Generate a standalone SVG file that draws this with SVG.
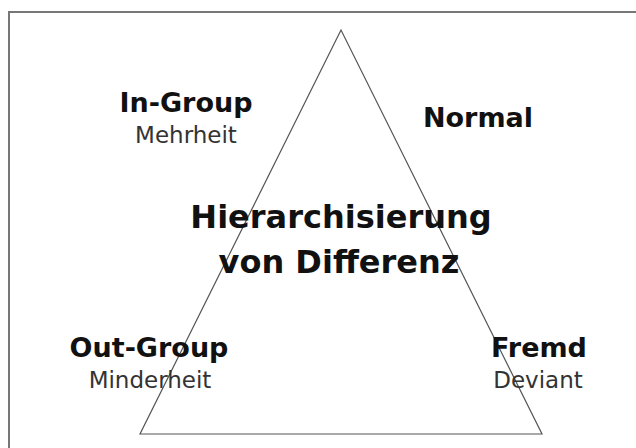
<svg xmlns="http://www.w3.org/2000/svg" width="636" height="448" viewBox="0 0 636 448">
<style>
.b{font-family:"DejaVu Sans",sans-serif;font-weight:bold;fill:#111;text-anchor:middle}
.r{font-family:"DejaVu Sans",sans-serif;fill:#333;text-anchor:middle}
</style>
<rect x="0" y="0" width="636" height="448" fill="#fff"/>
<rect x="9" y="12" width="700" height="500" fill="none" stroke="#777" stroke-width="2"/>
<g id="connectors">
<polygon points="341,30 140,434 542,434" fill="none" stroke="#555" stroke-width="1.2"/>
</g>
<g id="ingroup"><text class="b" x="186" y="112" font-size="27">In-Group</text><text class="r" x="186" y="143" font-size="23">Mehrheit</text></g>
<g id="normal"><text class="b" x="478" y="127" font-size="27">Normal</text></g>
<g id="center"><text class="b" x="341" y="228" font-size="32">Hierarchisierung</text><text class="b" x="339" y="273" font-size="32">von Differenz</text></g>
<g id="outgroup"><text class="b" x="149" y="357" font-size="27">Out-Group</text><text class="r" x="150" y="388" font-size="23">Minderheit</text></g>
<g id="fremd"><text class="b" x="539" y="357" font-size="27">Fremd</text><text class="r" x="538" y="388" font-size="23">Deviant</text></g>
</svg>
